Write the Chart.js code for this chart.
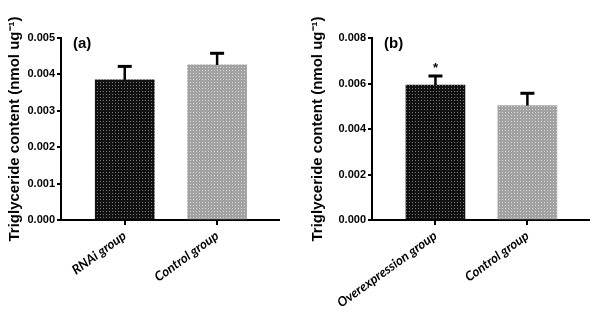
<!DOCTYPE html>
<html>
<head>
<meta charset="utf-8">
<script src="https://cdn.jsdelivr.net/npm/chart.js@4/dist/chart.umd.min.js"></script>
<style>
  body { margin: 0; background: #fff; }
  .wrap { display: flex; width: 600px; height: 315px; }
  .box { position: relative; width: 300px; height: 315px; }
</style>
</head>
<body>
<div class="wrap">
  <div class="box"><canvas id="chartA"></canvas></div>
  <div class="box"><canvas id="chartB"></canvas></div>
</div>
<script>
// panel (a)
const groupsA = ['RNAi group', 'Control group'];
const meansA = [0.00385, 0.00426];
const errA = [0.00037, 0.00032];
const ticksA = [0, 0.001, 0.002, 0.003, 0.004, 0.005];

// panel (b)
const groupsB = ['Overexpression group', 'Control group'];
const meansB = [0.00593, 0.00503];
const errB = [0.00040, 0.00054];
const ticksB = [0, 0.002, 0.004, 0.006, 0.008];
const starsB = ['*', ''];

const yTitle = 'Triglyceride content (nmol ug\u207B\u00B9)';

// dotted fills like the printed figure
function dotPattern(base, dot){
    const c = document.createElement('canvas');
    c.width = 3; c.height = 3;
    const g = c.getContext('2d');
    g.fillStyle = base;
    g.fillRect(0, 0, 3, 3);
    g.fillStyle = dot;
    g.fillRect(1, 1, 1, 1);
    return g.createPattern(c, 'repeat');
}

// error bars (upper half only), star marks and panel letter
const extras = {
    id: 'extras',
    afterDatasetsDraw(chart, args, opts){
        const ctx = chart.ctx;
        const xs = chart.scales.x, ys = chart.scales.y;
        ctx.save();
        ctx.strokeStyle = '#000';
        ctx.fillStyle = '#000';
        opts.means.forEach((m, i) => {
            const px = xs.getPixelForValue(i + 1);
            const top = ys.getPixelForValue(m + opts.err[i]);
            const base = ys.getPixelForValue(m);
            ctx.lineWidth = 2.5;
            ctx.beginPath();
            ctx.moveTo(px, base);
            ctx.lineTo(px, top);
            ctx.stroke();
            ctx.lineWidth = 3;
            ctx.beginPath();
            ctx.moveTo(px - 7, top);
            ctx.lineTo(px + 7, top);
            ctx.stroke();
            if (opts.stars && opts.stars[i]) {
                ctx.font = 'bold 13px "Liberation Sans", Arial';
                ctx.textAlign = 'center';
                ctx.textBaseline = 'bottom';
                ctx.fillText(opts.stars[i], px, top - 1);
            }
        });
        ctx.font = 'bold 15px "Liberation Sans", Arial';
        ctx.textAlign = 'left';
        ctx.textBaseline = 'middle';
        ctx.fillText(opts.letter, chart.chartArea.left + 12, chart.chartArea.top + 6);
        ctx.restore();
    }
};

function makeChart(id, groups, means, err, ticks, stars, letter, yWidth, padRight, titlePad){
    return new Chart(document.getElementById(id), {
        type: 'bar',
        data: {
            datasets: [{
                data: means.map((v, i) => ({x: i + 1, y: v})),
                backgroundColor: [dotPattern('#111', '#777'), dotPattern('#a2a2a2', '#d4d4d4')],
                borderWidth: 0,
                barThickness: 59
            }]
        },
        options: {
            responsive: true,
            maintainAspectRatio: false,
            animation: false,
            layout: { padding: { top: 38, right: padRight, left: 0, bottom: 0 } },
            scales: {
                x: {
                    type: 'linear',
                    min: 0.31,
                    max: 2.67,
                    offset: false,
                    afterBuildTicks: s => { s.ticks = groups.map((g, i) => ({value: i + 1})); },
                    afterFit: s => { s.height = 95; },
                    ticks: {
                        callback: (v) => groups[v - 1],
                        minRotation: 36,
                        maxRotation: 36,
                        color: '#000',
                        font: { family: 'Lato', size: 13, weight: 'bold', style: 'italic' },
                        padding: 3
                    },
                    grid: { offset: false, drawOnChartArea: false, color: '#000', lineWidth: 2, tickLength: 5 },
                    border: { color: '#000', width: 2 }
                },
                y: {
                    min: 0,
                    max: ticks[ticks.length - 1],
                    afterBuildTicks: s => { s.ticks = ticks.map(v => ({value: v})); },
                    afterFit: s => { s.width = yWidth; },
                    ticks: {
                        callback: v => v.toFixed(3),
                        color: '#000',
                        font: { family: 'Liberation Sans', size: 11, weight: 'bold' },
                        padding: 2
                    },
                    grid: { drawOnChartArea: false, color: '#000', lineWidth: 2, tickLength: 4 },
                    border: { color: '#000', width: 2 },
                    title: {
                        display: true,
                        text: yTitle,
                        color: '#000',
                        font: { family: 'Liberation Sans', size: 15, weight: 'bold' },
                        padding: { top: titlePad, bottom: 0 }
                    }
                }
            },
            plugins: {
                legend: { display: false },
                tooltip: { enabled: false },
                extras: { means, err, stars, letter }
            }
        },
        plugins: [extras]
    });
}

makeChart('chartA', groupsA, meansA, errA, ticksA, null, '(a)', 61, 21, 6);
makeChart('chartB', groupsB, meansB, errB, ticksB, starsB, '(b)', 72, 11, 9);
</script>
</body>
</html>
